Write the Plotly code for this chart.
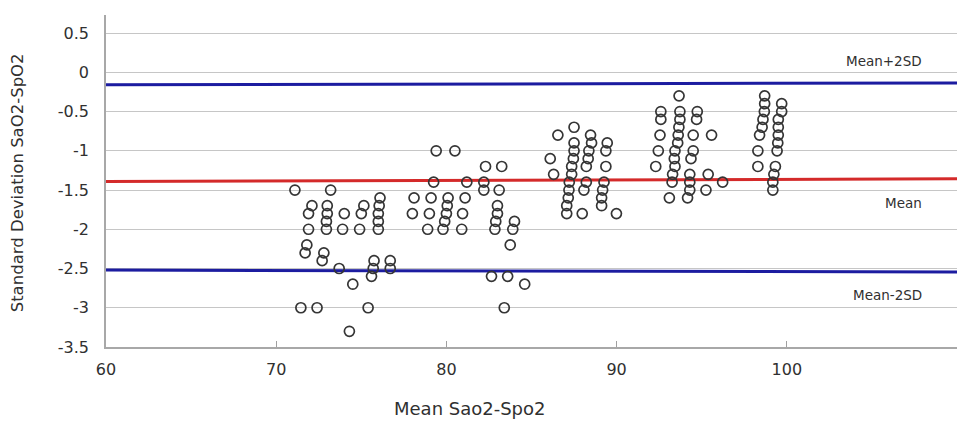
import plotly.graph_objects as go

# ---- data ----
c1_x = [71.1, 73.2, 72.1, 71.9, 71.9, 73.0, 73.0, 72.95, 72.95, 74.0, 73.9, 75.15, 75.0, 74.9,
        76.1, 76.05, 76.0, 76.0, 76.0, 71.8, 71.7, 72.8, 72.7, 73.7, 74.5, 75.75, 75.7, 75.6,
        76.7, 76.7, 71.45, 72.4, 75.4, 74.3]
c1_y = [-1.5, -1.5, -1.7, -1.8, -2.0, -1.7, -1.8, -1.9, -2.0, -1.8, -2.0, -1.7, -1.8, -2.0,
        -1.6, -1.7, -1.8, -1.9, -2.0, -2.2, -2.3, -2.3, -2.4, -2.5, -2.7, -2.4, -2.5, -2.6,
        -2.4, -2.5, -3.0, -3.0, -3.0, -3.3]

c2_x = [79.4, 80.5, 82.3, 83.25, 79.25, 81.2, 82.2, 82.2, 83.1, 78.1, 78.0, 79.1, 79.0, 78.9,
        80.1, 80.05, 80.0, 79.9, 79.8, 81.1, 80.95, 80.9, 83.0, 83.0, 82.9, 82.85, 84.0, 83.9,
        83.75, 82.65, 83.6, 84.6, 83.4]
c2_y = [-1.0, -1.0, -1.2, -1.2, -1.4, -1.4, -1.4, -1.5, -1.5, -1.6, -1.8, -1.6, -1.8, -2.0,
        -1.6, -1.7, -1.8, -1.9, -2.0, -1.6, -1.8, -2.0, -1.7, -1.8, -1.9, -2.0, -1.9, -2.0,
        -2.2, -2.6, -2.6, -2.7, -3.0]

c3_x = [86.55, 87.5, 86.1, 86.3, 87.5, 87.5, 87.46, 87.36, 87.36, 87.22, 87.2, 87.16, 87.07, 87.07,
        88.47, 88.53, 88.37, 88.33, 88.22, 88.22, 88.08, 87.98, 89.45, 89.37, 89.37,
        89.26, 89.18, 89.12, 89.12, 89.99]
c3_y = [-0.8, -0.7, -1.1, -1.3, -0.9, -1.0, -1.1, -1.2, -1.3, -1.4, -1.5, -1.6, -1.7, -1.8,
        -0.8, -0.9, -1.0, -1.1, -1.2, -1.4, -1.5, -1.8, -0.9, -1.0, -1.2,
        -1.4, -1.5, -1.6, -1.7, -1.8]

c4_x = [93.67, 92.6, 92.6, 93.72, 93.72, 93.66, 93.62, 93.59, 93.43, 93.39, 93.43, 93.29, 93.26,
        92.55, 92.45, 92.3, 93.1, 94.74, 94.7, 94.5, 94.5, 94.37, 95.58, 94.3, 94.3, 94.3, 94.17,
        95.38, 95.25, 96.23]
c4_y = [-0.3, -0.5, -0.6, -0.5, -0.6, -0.7, -0.8, -0.9, -1.0, -1.1, -1.2, -1.3, -1.4,
        -0.8, -1.0, -1.2, -1.6, -0.5, -0.6, -0.8, -1.0, -1.1, -0.8, -1.3, -1.4, -1.5, -1.6,
        -1.3, -1.5, -1.4]

c5_x = [98.7, 98.7, 98.68, 98.6, 98.55, 98.4, 98.3, 98.3,
        99.7, 99.7, 99.5, 99.5, 99.5, 99.47, 99.43, 99.33, 99.24, 99.18, 99.18]
c5_y = [-0.3, -0.4, -0.5, -0.6, -0.7, -0.8, -1.0, -1.2,
        -0.4, -0.5, -0.6, -0.7, -0.8, -0.9, -1.0, -1.2, -1.3, -1.4, -1.5]

line_x = [60, 110]
upper_y = [-0.158, -0.136]
mean_y = [-1.39, -1.357]
lower_y = [-2.52, -2.545]

x_ticks = [60, 70, 80, 90, 100, 110]
y_ticks = [0.5, 0, -0.5, -1, -1.5, -2, -2.5, -3, -3.5]
y_tick_text = ["0.5", "0", "-0.5", "-1", "-1.5", "-2", "-2.5", "-3", "-3.5"]

labels = ["Mean+2SD", "Mean", "Mean-2SD"]
label_y = [0.15, -1.66, -2.84]

# ---- figure ----
fig = go.Figure()
BLUE = "#1c1ca0"
RED = "#d42a2a"
fig.add_trace(go.Scatter(x=line_x, y=upper_y, mode="lines", line=dict(color=BLUE, width=3), hoverinfo="skip"))
fig.add_trace(go.Scatter(x=line_x, y=mean_y, mode="lines", line=dict(color=RED, width=3), hoverinfo="skip"))
fig.add_trace(go.Scatter(x=line_x, y=lower_y, mode="lines", line=dict(color=BLUE, width=3), hoverinfo="skip"))

all_x = c1_x + c2_x + c3_x + c4_x + c5_x
all_y = c1_y + c2_y + c3_y + c4_y + c5_y
fig.add_trace(go.Scatter(
    x=all_x, y=all_y, mode="markers",
    marker=dict(symbol="circle-open", size=10, color="#353535", line=dict(width=1.7, color="#353535")),
))

FONT = "DejaVu Sans, sans-serif"
TXT = "#303030"
for t, yv in zip(labels, label_y):
    fig.add_annotation(x=108.06, y=yv, text=t, showarrow=False, xanchor="right", yanchor="middle",
                       font=dict(family=FONT, size=13.5, color=TXT))

fig.add_annotation(xref="paper", yref="paper", x=0.428, y=-0.184, text="Mean Sao2-Spo2",
                   showarrow=False, xanchor="center", yanchor="middle",
                   font=dict(family=FONT, size=18, color=TXT))
fig.add_annotation(xref="paper", yref="paper", x=-0.103, y=0.494, text="Standard Deviation SaO2-SpO2",
                   showarrow=False, xanchor="center", yanchor="middle", textangle=-90,
                   font=dict(family=FONT, size=16.5, color=TXT))

# the page body has an 8px margin, so the figure is 8px smaller and the left/top margins shifted
fig.update_layout(
    width=958, height=413,
    margin=dict(l=98, r=9, t=7, b=74),
    plot_bgcolor="white", paper_bgcolor="white",
    showlegend=False,
    xaxis=dict(range=[60, 110], tickvals=x_ticks, ticks="inside", ticklen=6, tickcolor="#a0a0a0",
               tickwidth=1.3, showgrid=False, zeroline=False, showline=True, linecolor="#a8a8a8",
               linewidth=1.5, ticklabelstandoff=7,
               tickfont=dict(family=FONT, size=16, color=TXT)),
    yaxis=dict(range=[-3.5, 0.73], tickvals=y_ticks, ticktext=y_tick_text, ticks="",
               showgrid=True, gridcolor="#c6c6c6", gridwidth=1.3, zeroline=False,
               showline=True, linecolor="#a8a8a8", linewidth=1.5, ticklabelstandoff=12,
               tickfont=dict(family=FONT, size=16, color=TXT)),
)

fig.write_html("out.html")
